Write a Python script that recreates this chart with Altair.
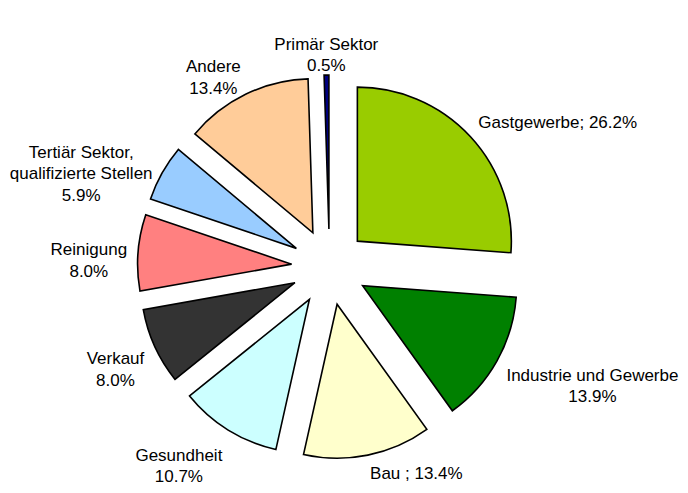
import altair as alt
import pandas as pd

# Data (clockwise from 12 o'clock)
categories = ["Gastgewerbe", "Industrie und Gewerbe", "Bau", "Gesundheit", "Verkauf",
              "Reinigung", "Tertiär Sektor,\nqualifizierte Stellen", "Andere", "Primär Sektor"]
values = [26.2, 13.9, 13.4, 10.7, 8.0, 8.0, 5.9, 13.4, 0.5]
separators = ["; ", "\n", " ; ", "\n", "\n", "\n", "\n", "\n", "\n"]
colors = ["#99CC00", "#008000", "#FFFFCC", "#CCFFFF", "#333333",
          "#FF8080", "#99CCFF", "#FFCC99", "#000080"]

FONT = "Liberation Sans"
FS = 17
LH = 21.5

# approximate Arial / Liberation Sans advance widths (per 1000 em) for label-width estimation
_w = {c: 556 for c in "abdeghnopqu0123456789ä"}
_w.update({c: 500 for c in "cksvxyz"})
_w.update({"f": 278, "t": 278, "i": 222, "j": 222, "l": 222, "m": 833, "r": 333, "w": 722,
           "A": 667, "B": 667, "G": 778, "I": 278, "P": 667, "R": 722, "S": 667, "T": 611,
           "V": 667, ".": 278, "%": 889, " ": 278, ";": 278, ",": 278})

def text_width(s):
    return max(sum(_w.get(ch, 556) for ch in line) for line in s.split("\n")) * FS / 1000

labels = [f"{c}{s}{v:.1f}%" for c, s, v in zip(categories, separators, values)]
nlines = [lab.count("\n") + 1 for lab in labels]
df = pd.DataFrame({
    "cat": categories,
    "val": values,
    "idx": list(range(len(categories))),
    "label": labels,
    "th": [(n * LH - (LH - FS)) for n in nlines],   # text block height
    "tw": [text_width(lab) for lab in labels],       # text block width
})

W, H = 672, 477
CX, CY = 321.5, 259.0   # pie centre in plot coords
EXPLODE = 38            # radial explosion distance
RADIUS = 154
LABEL_R = 203

base = alt.Chart(df).transform_window(
    cum="sum(val)", sort=[alt.SortField("idx")], frame=[None, 0]
).transform_joinaggregate(
    total="sum(val)"
).transform_calculate(
    t1="2*PI*datum.cum/datum.total",
    t0="2*PI*(datum.cum-datum.val)/datum.total",
).transform_calculate(
    mid="(datum.t0+datum.t1)/2"
).transform_calculate(
    side="sin(datum.mid) > 0.1 ? 1 : (sin(datum.mid) < -0.1 ? -1 : 0)",
    px=f"{CX} + {EXPLODE}*sin(datum.mid)",
    py=f"{CY} - {EXPLODE}*cos(datum.mid)",
).transform_calculate(
    lx=f"{CX} + {LABEL_R}*sin(datum.mid) + datum.side*datum.tw/2",
    ly=f"{CY} - {LABEL_R}*cos(datum.mid) - cos(datum.mid)*datum.th/2",
)

arcs = base.mark_arc(radius=RADIUS, stroke="black", strokeWidth=1.6).encode(
    theta=alt.Theta("t0:Q", scale=None),
    theta2="t1:Q",
    x=alt.X("px:Q", scale=None, axis=None),
    y=alt.Y("py:Q", scale=None, axis=None),
    color=alt.Color("cat:N", scale=alt.Scale(domain=categories, range=colors), legend=None),
)

texts = base.mark_text(
    align="center", baseline="middle", lineBreak="\n", lineHeight=LH,
    font=FONT, fontSize=FS, color="black"
).encode(
    x=alt.X("lx:Q", scale=None, axis=None),
    y=alt.Y("ly:Q", scale=None, axis=None),
    text="label:N",
)

chart = alt.layer(arcs, texts).properties(
    width=W, height=H, autosize="none", padding=0, background="white"
).configure_view(stroke=None)

chart.save("out.html", embed_options={"renderer": "svg", "actions": False})
